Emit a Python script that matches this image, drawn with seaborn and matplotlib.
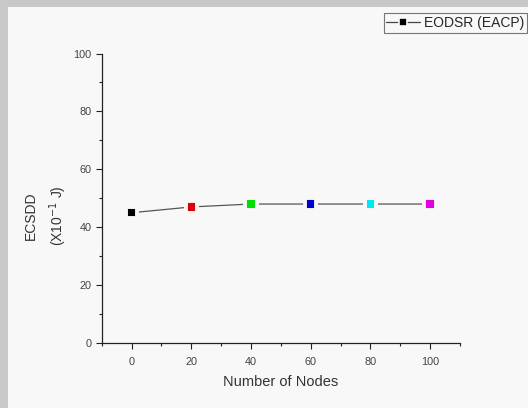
import matplotlib
matplotlib.use("Agg")
import matplotlib.pyplot as plt
import seaborn as sns
import pandas as pd
from matplotlib.patches import Rectangle
from matplotlib.lines import Line2D
from matplotlib.ticker import MultipleLocator

nodes = [0, 20, 40, 60, 80, 100]
ecsdd = [45, 47, 48, 48, 48, 48]
point_colors = ["#000000", "#e00000", "#00e000", "#0000cc", "#00e8f0", "#e000e0"]
series_name = "EODSR (EACP)"
xticks = [0, 20, 40, 60, 80, 100]
yticks = [0, 20, 40, 60, 80, 100]

df = pd.DataFrame({"Nodes": nodes, "ECSDD": ecsdd, "pt": [str(n) for n in nodes]})

sns.set_style("ticks")
plt.rcParams["font.family"] = ["Liberation Sans", "DejaVu Sans"]

BG = "#f8f8f8"
fig = plt.figure(figsize=(5.28, 4.08), dpi=100)
fig.patch.set_facecolor("#c8c8c8")
bg = Rectangle((8/528, 0), 1, 1 - 7/408, transform=fig.transFigure,
               facecolor=BG, edgecolor="none", zorder=-5)
fig.add_artist(bg)
ax = fig.add_axes([101.7/528, 1 - 343/408, (460 - 101.7)/528, (343 - 53.5)/408])
ax.set_facecolor("none")

sns.lineplot(data=df, x="Nodes", y="ECSDD", ax=ax, color="#555555", lw=0.9, legend=False)
sns.scatterplot(data=df, x="Nodes", y="ECSDD", hue="pt", palette=point_colors, marker="s",
                s=66, edgecolor=BG, linewidth=2.8, ax=ax, legend=False, zorder=5)

ax.set_xlim(-10, 110)
ax.set_ylim(0, 100)
ax.set_xticks(xticks)
ax.set_yticks(yticks)
ax.xaxis.set_minor_locator(MultipleLocator(10))
ax.yaxis.set_minor_locator(MultipleLocator(10))
ax.tick_params(which="major", length=4, width=0.8, labelsize=7.8, labelcolor="#444444",
               color="#222222")
ax.tick_params(axis="x", which="major", pad=6)
ax.tick_params(which="minor", length=2.5, width=0.8, color="#222222")
for s in ["top", "right"]:
    ax.spines[s].set_visible(False)
for s in ["left", "bottom"]:
    ax.spines[s].set_linewidth(0.9)
    ax.spines[s].set_color("#222222")

ax.set_xlabel("Number of Nodes", fontsize=10.5, color="#333333", labelpad=6)
ax.set_ylabel("ECSDD\n(X10$^{-1}$ J)", fontsize=10, color="#333333", linespacing=1.65)
ax.yaxis.set_label_coords(-0.09, 0.44)

handle = Line2D([], [], color="#444444", lw=0.9, marker="s", markersize=6,
                markerfacecolor="black", markeredgecolor=BG, markeredgewidth=1.2)
leg = fig.legend([handle], [series_name], loc="upper right",
                 bbox_to_anchor=(1 - 1/528, 1 - 13/408), fontsize=10,
                 frameon=True, fancybox=False, edgecolor="#555555", handlelength=2.4,
                 borderpad=0.2, handletextpad=0.3, borderaxespad=0)
leg.get_frame().set_linewidth(0.8)
leg.get_frame().set_facecolor(BG)

fig.savefig("out.png", dpi=100, facecolor=fig.get_facecolor())
